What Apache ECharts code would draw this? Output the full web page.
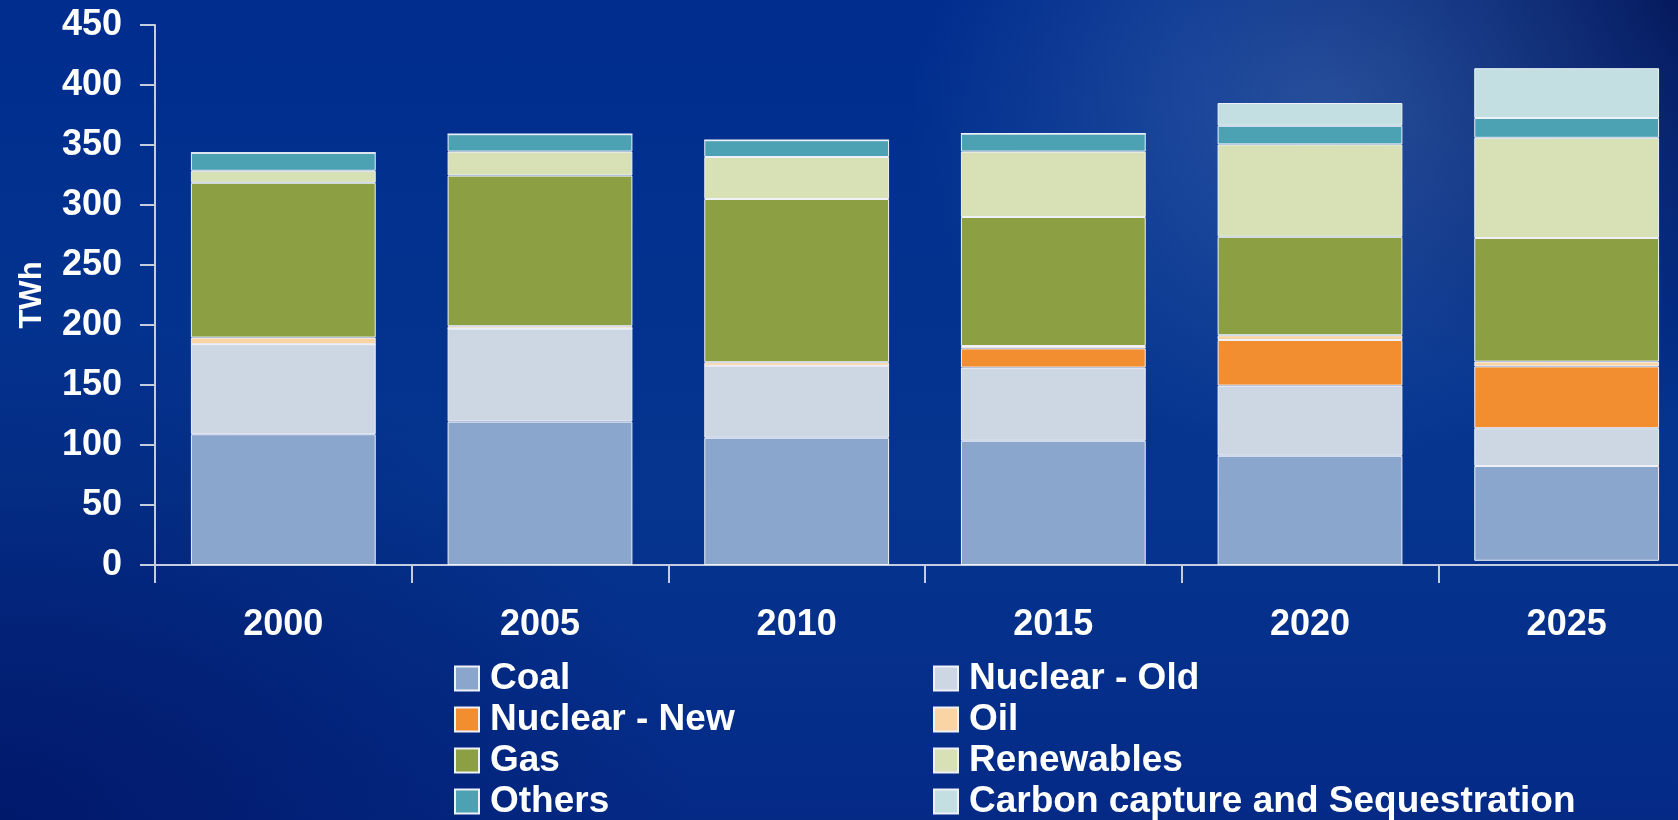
<!DOCTYPE html>
<html>
<head>
<meta charset="utf-8">
<title>TWh</title>
<script src="https://cdn.jsdelivr.net/npm/echarts@6/dist/echarts.min.js"></script>
<style>
	html, body {
		margin: 0;
		padding: 0;
		width: 1678px;
		height: 820px;
		overflow: hidden;
	}
	body {
		background:
			radial-gradient(ellipse 420px 360px at 1330px 110px, rgba(70, 110, 175, 0.55), rgba(70, 110, 175, 0) 100%),
			radial-gradient(ellipse 520px 420px at 1700px 0px, rgba(0, 16, 80, 0.9), rgba(0, 16, 80, 0) 100%),
			radial-gradient(ellipse 700px 500px at 0px 820px, rgba(0, 20, 100, 0.8), rgba(0, 20, 100, 0) 100%),
			linear-gradient(180deg, #002d8e 0%, #05358f 60%, #042a86 100%);
	}
	/* last category runs past the right edge of the window, as in the original */
	#chart {
		width: 1695px;
		height: 820px;
	}
</style>
</head>
<body>
<div id="chart"></div>
<script>
	var years = ['2000', '2005', '2010', '2015', '2020', '2025']
	var yTicks = [0, 50, 100, 150, 200, 250, 300, 350, 400, 450]

	// 2025 bar sits a little above the axis in the original
	var offset = [0, 0, 0, 0, 0, 3.5]
	var coal = [109, 119.5, 106, 103.5, 91, 79]
	var nuclearOld = [75, 77.5, 60, 61, 58.5, 31.5]
	var nuclearNew = [0, 0, 0, 16, 38, 51.5]
	var oil = [5.5, 2, 3, 2, 4, 4]
	var gas = [129, 125.5, 136, 107.5, 82, 103]
	var renewables = [10, 20, 35, 54.5, 77, 83.5]
	var others = [15, 14.5, 14, 15, 15.5, 16.5]
	var ccs = [0, 0, 0, 0, 19, 41.5]

	var chart = echarts.init(document.getElementById('chart'))

	var font = 'Liberation Sans, Arial, sans-serif'
	var axisColor = '#c4cde0'

	function bar(name, data, color) {
		return {
			name: name,
			type: 'bar',
			stack: 'total',
			data: data,
			barCategoryGap: '28%',
			itemStyle: {
				color: color,
				borderColor: '#eef2f8',
				borderWidth: 1
			}
		}
	}

	function legendColumn(names, left) {
		return {
			data: names,
			orient: 'vertical',
			left: left,
			top: 660,
			height: 170,
			padding: 0,
			icon: 'rect',
			itemWidth: 24,
			itemHeight: 24,
			itemGap: 4,
			selectedMode: false,
			textStyle: {
				color: '#ffffff',
				fontFamily: font,
				fontWeight: 'bold',
				fontSize: 37,
				padding: [0, 0, 0, 6]
			}
		}
	}

	chart.setOption({
		animation: false,
		grid: {
			left: 155,
			right: 0,
			top: 25,
			bottom: 255
		},
		legend: [
			legendColumn(['Coal', 'Nuclear - New', 'Gas', 'Others'], 454),
			legendColumn(['Nuclear - Old', 'Oil', 'Renewables', 'Carbon capture and Sequestration'], 933)
		],
		xAxis: {
			type: 'category',
			data: years,
			axisLine: {
				lineStyle: { color: axisColor, width: 2 }
			},
			axisTick: {
				show: true,
				length: 18,
				lineStyle: { color: axisColor, width: 2 }
			},
			axisLabel: {
				color: '#ffffff',
				fontFamily: font,
				fontWeight: 'bold',
				fontSize: 36,
				margin: 42
			}
		},
		yAxis: {
			type: 'value',
			min: yTicks[0],
			max: yTicks[yTicks.length - 1],
			interval: 50,
			name: 'TWh',
			nameLocation: 'middle',
			nameGap: 107,
			nameTextStyle: {
				color: '#ffffff',
				fontFamily: font,
				fontWeight: 'bold',
				fontSize: 31
			},
			splitLine: { show: false },
			axisLine: {
				show: true,
				lineStyle: { color: axisColor, width: 2 }
			},
			axisTick: {
				show: true,
				length: 15,
				lineStyle: { color: axisColor, width: 2 }
			},
			axisLabel: {
				color: '#ffffff',
				fontFamily: font,
				fontWeight: 'bold',
				fontSize: 36,
				margin: 33
			}
		},
		series: [
			{
				name: 'offset',
				type: 'bar',
				stack: 'total',
				data: offset,
				silent: true,
				barCategoryGap: '28%',
				itemStyle: { color: 'rgba(0,0,0,0)', borderWidth: 0 }
			},
			bar('Coal', coal, '#8aa6cd'),
			bar('Nuclear - Old', nuclearOld, '#cdd6e3'),
			bar('Nuclear - New', nuclearNew, '#f38e30'),
			bar('Oil', oil, '#fad4a5'),
			bar('Gas', gas, '#8c9f42'),
			bar('Renewables', renewables, '#d8e0b5'),
			bar('Others', others, '#4ca1b3'),
			bar('Carbon capture and Sequestration', ccs, '#c3dfe2')
		]
	})
</script>
</body>
</html>
